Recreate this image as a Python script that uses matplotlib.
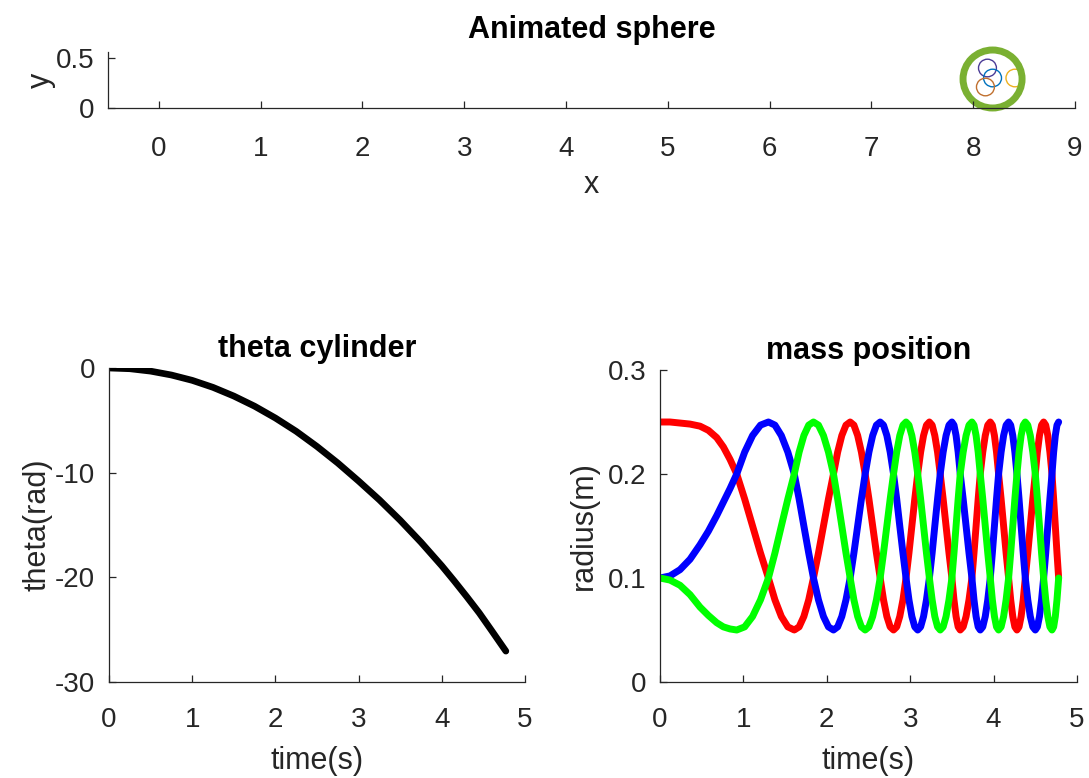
import matplotlib
matplotlib.use("Agg")
import matplotlib.pyplot as plt
from matplotlib.patches import Circle

plt.rcParams['font.family'] = ['Liberation Sans', 'DejaVu Sans']
plt.rcParams['axes.unicode_minus'] = False

# --- data ---
# sphere snapshot (top panel)
sphere_center = (8.19, 0.29)
sphere_radius = 0.29
mass_x = [8.14, 8.19, 8.12, 8.41]
mass_y = [0.40, 0.30, 0.21, 0.30]
mass_r = [0.088, 0.088, 0.088, 0.088]
mass_colors = ['#4B3C96', '#0072BD', '#C0702F', '#EDB120']

# theta cylinder
t_theta = [0, 0.25, 0.5, 0.75, 1.0, 1.25, 1.5, 1.75, 2.0, 2.25, 2.5, 2.75,
           3.0, 3.25, 3.5, 3.75, 4.0, 4.15, 4.3, 4.45, 4.6, 4.77]
theta = [0, -0.07, -0.3, -0.67, -1.18, -1.85, -2.68, -3.65, -4.78, -6.05,
         -7.5, -9.08, -10.8, -12.6, -14.55, -16.65, -18.9, -20.35, -21.85,
         -23.4, -25.1, -27.05]

# mass position
t_mass = [0, 0.12, 0.24, 0.36, 0.48, 0.58, 0.68, 0.76, 0.84,
          0.92, 1.015, 1.11, 1.205, 1.30, 1.378, 1.455, 1.533,
          1.61, 1.668, 1.725, 1.783, 1.84, 1.90, 1.96, 2.02,
          2.08, 2.13, 2.18, 2.23, 2.28, 2.325, 2.37, 2.415,
          2.46, 2.505, 2.55, 2.595, 2.64, 2.68, 2.72, 2.76,
          2.80, 2.838, 2.875, 2.913, 2.95, 2.985, 3.02, 3.055,
          3.09, 3.125, 3.16, 3.195, 3.23, 3.263, 3.295, 3.328,
          3.36, 3.395, 3.43, 3.465, 3.50, 3.525, 3.55, 3.575,
          3.60, 3.635, 3.67, 3.705, 3.74, 3.765, 3.79, 3.815,
          3.84, 3.87, 3.90, 3.93, 3.96, 3.985, 4.01, 4.035,
          4.06, 4.09, 4.12, 4.15, 4.18, 4.205, 4.23, 4.255,
          4.28, 4.305, 4.33, 4.355, 4.38, 4.41, 4.44, 4.47,
          4.50, 4.525, 4.55, 4.575, 4.60, 4.625, 4.65, 4.675,
          4.70, 4.72, 4.74, 4.76, 4.78]
r_red = [0.25, 0.25, 0.249, 0.248, 0.246, 0.242, 0.235, 0.226, 0.214,
         0.2, 0.176, 0.15, 0.124, 0.1, 0.079, 0.063, 0.053, 0.05, 0.053,
         0.063, 0.079, 0.1, 0.124, 0.15, 0.176, 0.2, 0.221, 0.237, 0.247,
         0.25, 0.247, 0.237, 0.221, 0.2, 0.176, 0.15, 0.124, 0.1, 0.079,
         0.063, 0.053, 0.05, 0.053, 0.063, 0.079, 0.1, 0.124, 0.15, 0.176,
         0.2, 0.221, 0.237, 0.247,
         0.25, 0.247, 0.237, 0.221, 0.2, 0.176, 0.15, 0.124, 0.1, 0.079,
         0.063, 0.053, 0.05, 0.053, 0.063, 0.079, 0.1, 0.124, 0.15, 0.176,
         0.2, 0.221, 0.237, 0.247,
         0.25, 0.247, 0.237, 0.221, 0.2, 0.176, 0.15, 0.124, 0.1, 0.079,
         0.063, 0.053, 0.05, 0.053, 0.063, 0.079, 0.1, 0.124, 0.15, 0.176,
         0.2, 0.221, 0.237, 0.247,
         0.25, 0.247, 0.237, 0.221, 0.2, 0.176, 0.15, 0.124, 0.1]
r_blue = [0.1, 0.102, 0.108, 0.118, 0.132, 0.145, 0.16, 0.173, 0.186,
          0.2, 0.221, 0.237, 0.247,
          0.25, 0.247, 0.237, 0.221, 0.2, 0.176, 0.15, 0.124, 0.1, 0.079,
          0.063, 0.053, 0.05, 0.053, 0.063, 0.079, 0.1, 0.124, 0.15, 0.176,
          0.2, 0.221, 0.237, 0.247,
          0.25, 0.247, 0.237, 0.221, 0.2, 0.176, 0.15, 0.124, 0.1, 0.079,
          0.063, 0.053, 0.05, 0.053, 0.063, 0.079, 0.1, 0.124, 0.15, 0.176,
          0.2, 0.221, 0.237, 0.247,
          0.25, 0.247, 0.237, 0.221, 0.2, 0.176, 0.15, 0.124, 0.1, 0.079,
          0.063, 0.053, 0.05, 0.053, 0.063, 0.079, 0.1, 0.124, 0.15, 0.176,
          0.2, 0.221, 0.237, 0.247,
          0.25, 0.247, 0.237, 0.221, 0.2, 0.176, 0.15, 0.124, 0.1, 0.079,
          0.063, 0.053, 0.05, 0.053, 0.063, 0.079, 0.1, 0.124, 0.15, 0.176,
          0.2, 0.221, 0.237, 0.247,
          0.25]
r_green = [0.1, 0.098, 0.093, 0.084, 0.072, 0.064, 0.057, 0.053, 0.051,
           0.05, 0.053, 0.063, 0.079, 0.1, 0.124, 0.15, 0.176, 0.2, 0.221,
           0.237, 0.247,
           0.25, 0.247, 0.237, 0.221, 0.2, 0.176, 0.15, 0.124, 0.1, 0.079,
           0.063, 0.053, 0.05, 0.053, 0.063, 0.079, 0.1, 0.124, 0.15, 0.176,
           0.2, 0.221, 0.237, 0.247,
           0.25, 0.247, 0.237, 0.221, 0.2, 0.176, 0.15, 0.124, 0.1, 0.079,
           0.063, 0.053, 0.05, 0.053, 0.063, 0.079, 0.1, 0.124, 0.15, 0.176,
           0.2, 0.221, 0.237, 0.247,
           0.25, 0.247, 0.237, 0.221, 0.2, 0.176, 0.15, 0.124, 0.1, 0.079,
           0.063, 0.053, 0.05, 0.053, 0.063, 0.079, 0.1, 0.124, 0.15, 0.176,
           0.2, 0.221, 0.237, 0.247,
           0.25, 0.247, 0.237, 0.221, 0.2, 0.176, 0.15, 0.124, 0.1, 0.079,
           0.063, 0.053, 0.05, 0.053, 0.063, 0.079, 0.1]

W, H = 1089, 778
AXC = '#262626'


def style(ax, pad=10):
    ax.spines['top'].set_visible(False)
    ax.spines['right'].set_visible(False)
    for s in ('left', 'bottom'):
        ax.spines[s].set_color(AXC)
        ax.spines[s].set_linewidth(0.9)
    ax.tick_params(direction='in', length=5, width=0.9, colors=AXC,
                   labelsize=20, pad=pad)


fig = plt.figure(figsize=(W / 100, H / 100), dpi=100)

# top panel
ax0 = fig.add_axes([108 / W, 1 - 108 / H, 967 / W, 56 / H])
for x, y, r, c in zip(mass_x, mass_y, mass_r, mass_colors):
    ax0.add_patch(Circle((x, y), r, fill=False, ec=c, lw=1.0, clip_on=False))
ax0.add_patch(Circle(sphere_center, sphere_radius, fill=False, ec='#7AB032',
                     lw=5, clip_on=False))
ax0.set_xlim(-0.5, 9)
ax0.set_ylim(0, 0.56)
ax0.set_xticks(range(0, 10))
ax0.set_yticks([0, 0.5])
ax0.set_yticklabels(['0', '0.5'])
style(ax0)
ax0.tick_params(axis='x', pad=20)
ax0.set_xlabel('x', fontsize=22, color=AXC, labelpad=6)
ax0.set_ylabel('y', fontsize=22, color=AXC, labelpad=0)
ax0.set_title('Animated sphere', fontsize=22, fontweight='bold', pad=10)

# theta cylinder
ax1 = fig.add_axes([109 / W, 1 - 682 / H, 416 / W, 314 / H])
ax1.plot(t_theta, theta, color='black', lw=4.8, solid_capstyle='round')
ax1.set_xlim(0, 5)
ax1.set_ylim(-30, 0)
ax1.set_xticks(range(0, 6))
ax1.set_yticks([-30, -20, -10, 0])
style(ax1)
ax1.tick_params(axis='x', pad=18)
ax1.set_xlabel('time(s)', fontsize=22, color=AXC, labelpad=9)
ax1.set_ylabel('theta(rad)', fontsize=22, color=AXC, labelpad=2)
ax1.set_title('theta cylinder', fontsize=22, fontweight='bold', pad=8)

# mass position
ax2 = fig.add_axes([660 / W, 1 - 682 / H, 417 / W, 312 / H])
ax2.plot(t_mass, r_red, color='#FF0000', lw=5, solid_capstyle='round')
ax2.plot(t_mass, r_blue, color='#0000FF', lw=5, solid_capstyle='round')
ax2.plot(t_mass, r_green, color='#00FF00', lw=5, solid_capstyle='round')
ax2.set_xlim(0, 5)
ax2.set_ylim(0, 0.3)
ax2.set_xticks(range(0, 6))
ax2.set_yticks([0, 0.1, 0.2, 0.3])
ax2.set_yticklabels(['0', '0.1', '0.2', '0.3'])
style(ax2)
ax2.tick_params(axis='x', pad=18)
ax2.set_xlabel('time(s)', fontsize=22, color=AXC, labelpad=9)
ax2.set_ylabel('radius(m)', fontsize=22, color=AXC, labelpad=6)
ax2.set_title('mass position', fontsize=22, fontweight='bold', pad=8)

fig.savefig('out.png', dpi=100, facecolor='white')
